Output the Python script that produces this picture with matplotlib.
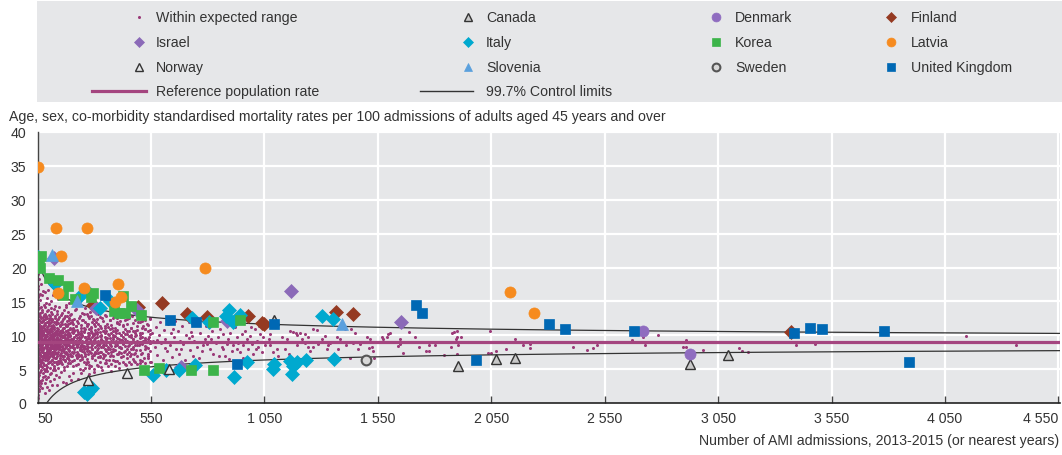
import numpy as np
import matplotlib
matplotlib.use("Agg")
import matplotlib.pyplot as plt
from matplotlib.lines import Line2D
from matplotlib.patches import Rectangle
from matplotlib import font_manager as fm

_names = {f.name for f in fm.fontManager.ttflist}
if "Liberation Sans Narrow" in _names:
    plt.rcParams['font.family'] = ['Liberation Sans Narrow', 'DejaVu Sans']
    FS = 11.5
else:
    plt.rcParams['font.family'] = ['Liberation Sans', 'DejaVu Sans']
    FS = 10.2

# ---------------- data ----------------
reference_rate = 9.0          # per 100 admissions
control_z = 3.0               # 99.7% limits
x_ticks = [50, 550, 1050, 1550, 2050, 2550, 3050, 3550, 4050, 4550]
x_tick_labels = ["50", "550", "1 050", "1 550", "2 050", "2 550", "3 050", "3 550", "4 050", "4 550"]
y_ticks = [0, 5, 10, 15, 20, 25, 30, 35, 40]

# hospitals within expected range (approximate reading)
dots_small = [
    (50,1.2),(50,4.5),(50,7.8),(50,10.3),(50,13.9),(50,17.2),(51,2.8),(51,9.1),(51,12.4),(51,15.6),
    (52,6.2),(52,8.4),(52,11.7),(52,19.0),(53,0.8),(53,5.1),(53,10.9),(53,14.5),(54,3.6),(54,7.3),
    (54,9.6),(54,16.8),(55,2.0),(55,8.9),(55,12.9),(56,6.7),(56,10.1),(56,18.3),(57,4.2),(57,11.3),
    (57,14.0),(58,1.7),(58,7.9),(58,9.4),(59,5.8),(59,12.1),(59,16.1),(60,3.3),(60,8.1),(60,10.7),
    (61,6.5),(61,13.3),(62,2.5),(62,9.8),(62,15.2),(63,7.1),(63,11.0),(64,4.8),(64,8.6),(65,12.6),
    (65,17.6),(66,3.0),(66,9.2),(67,6.0),(67,10.5),(68,13.7),(69,5.3),(69,8.3),(70,11.9),(71,2.2),
    (71,7.5),(72,9.9),(72,15.9),(73,4.4),(74,6.9),(74,12.3),(75,10.2),(76,3.8),(76,8.0),(77,14.4),
    (78,5.6),(78,9.5),(79,11.5),(80,7.2),
    (81,1.5),(81,10.8),(82,6.3),(82,13.1),(83,8.8),(83,16.4),(84,4.0),(84,9.7),(85,11.8),(85,2.9),
    (86,7.4),(86,14.8),(87,5.0),(87,10.0),(88,8.2),(88,12.7),(89,3.5),(89,9.3),(90,6.6),(90,15.5),
    (91,11.2),(92,4.7),(92,8.5),(93,10.6),(93,13.6),(94,2.4),(94,7.0),(95,9.0),(96,12.0),(96,5.9),
    (97,16.7),(97,8.7),(98,3.9),(98,10.4),(99,6.8),(99,13.0),(100,9.6),(101,1.9),(101,11.6),(102,7.7),
    (102,14.6),(103,5.2),(104,9.1),(104,12.5),(105,3.2),(106,8.0),(106,10.9),(107,6.1),(108,15.0),(108,9.8),
    (109,4.5),(110,11.4),(110,7.3),(111,13.5),(112,8.9),(113,2.7),(113,10.2),(114,6.4),(115,12.2),(116,8.4),
    (117,4.9),(117,16.0),(118,9.4),(119,11.0),(120,7.0),(121,3.6),(121,13.9),(122,9.9),(123,5.5),(124,8.1),
    (125,12.8),(126,10.5),(127,6.7),(128,14.3),(129,8.6),(130,4.1),
    (131,9.2),(132,11.9),(133,6.0),(134,13.2),(135,8.3),(136,2.6),(137,10.7),(138,7.4),(139,15.3),(140,9.5),
    (141,5.1),(142,12.4),(143,8.0),(144,10.1),(145,3.8),(146,14.1),(147,7.1),(148,9.9),(149,11.5),(150,6.3),
    (151,8.7),(152,13.0),(153,4.6),(154,10.4),(155,7.8),(156,12.1),(157,9.0),(158,5.7),(159,15.6),(160,8.4),
    (161,11.1),(162,3.1),(163,9.7),(164,6.9),(165,13.8),(166,10.0),(167,7.6),(168,12.6),(169,4.9),(170,9.3),
    (171,11.7),(172,8.1),(173,6.4),(174,14.5),(175,10.6),(176,2.9),(177,8.8),(178,12.9),(179,7.3),(180,9.6),
    (181,5.4),(182,11.3),(183,13.5),(184,8.5),(185,6.6),(186,10.3),(187,4.0),(188,9.0),(189,12.3),(190,7.7),
    (191,14.8),(192,10.9),(193,5.9),(194,8.2),(195,11.8),(196,3.4),(197,9.4),(198,13.1),(199,7.0),(200,10.5),
]
dots_mid = [
    (202,6.2),(204,12.0),(206,8.9),(208,4.4),(210,10.8),(212,7.5),(214,13.7),(216,9.1),(218,5.6),(220,11.4),
    (222,8.3),(224,14.4),(226,6.8),(228,10.2),(230,3.6),(232,9.7),(234,12.6),(236,7.9),(238,5.0),(240,11.0),
    (242,8.6),(244,13.3),(246,6.5),(248,9.9),(250,4.8),(252,12.2),(254,8.0),(256,10.6),(258,7.2),(260,14.0),
    (262,9.3),(264,5.8),(266,11.6),(268,8.4),(270,6.1),(272,12.8),(274,9.6),(276,4.3),(278,10.9),(280,7.6),
    (282,13.5),(284,8.8),(286,5.4),(288,11.2),(290,9.0),(292,6.9),(294,12.4),(296,10.1),(298,7.3),(300,4.6),
    (203,9.5),(211,8.1),(219,10.0),(227,8.7),(235,9.2),(243,10.4),(251,8.2),(259,9.8),(267,7.7),(275,10.3),
    (283,9.4),(291,8.0),(299,11.7),(207,11.1),(231,7.0),(255,13.1),(279,5.2),
    (303,9.1),(306,12.0),(309,7.4),(312,10.5),(315,5.5),(318,13.2),(321,8.6),(324,11.3),(327,6.8),(330,9.9),
    (333,4.9),(336,12.6),(339,8.2),(342,10.7),(345,7.0),(348,13.0),(351,9.4),(354,5.9),(357,11.6),(360,8.0),
    (363,10.1),(366,6.4),(369,12.3),(372,9.0),(375,4.7),(378,11.0),(381,7.7),(384,9.7),(387,12.9),(390,8.4),
    (393,6.2),(396,10.4),(399,8.9),(402,11.8),(405,7.2),(408,9.5),(411,5.2),(414,12.1),(417,8.1),(420,10.0),
    (305,10.3),(316,8.8),(329,9.3),(341,8.5),(356,9.6),(368,8.7),(383,10.6),(397,9.2),(412,8.3),(325,7.6),
    (347,11.0),(373,7.1),(401,12.5),
    (424,9.3),(428,11.5),(432,7.5),(436,10.2),(440,5.6),(444,12.4),(448,8.4),(452,9.9),(456,6.9),(460,11.1),
    (464,8.0),(468,12.8),(472,9.5),(476,6.2),(480,10.7),(484,7.8),(488,9.0),(492,11.9),(496,8.6),(500,5.9),
    (504,10.4),(508,7.3),(512,12.1),(516,9.2),(520,6.6),(524,10.9),(528,8.2),(532,11.6),(536,7.0),(540,9.7),
    (544,12.5),(548,8.8),(552,6.0),(556,10.3),(560,9.1),(426,8.7),(446,10.6),(466,9.0),(486,10.0),(506,8.9),
    (526,9.6),(546,10.8),(434,12.9),(474,7.2),(514,11.3),
    (566,8.3),(572,11.2),(578,7.1),(584,10.0),(590,12.0),(596,8.9),(602,6.4),(608,10.8),(614,9.4),(620,7.7),
    (626,11.6),(632,8.5),(638,10.3),(644,6.8),(650,9.7),(656,12.1),(662,8.0),(668,10.6),(674,7.3),(680,9.2),
    (686,11.4),(692,8.7),(698,6.3),(704,10.1),(710,9.0),(716,11.9),(722,7.8),(728,10.5),(575,9.3),(611,8.1),
    (647,10.9),(683,7.9),(719,9.6),
]
# further hospitals in the dense part of the cloud: admissions -> rates
dots_dense = {
    52: [6.8, 9.3, 11.1, 8.0, 14.8, 3.9, 10.0], 55: [7.6, 9.0, 12.2, 5.4, 10.6, 16.0],
    58: [8.7, 6.2, 11.6, 9.9, 13.1, 2.9], 61: [7.2, 10.4, 8.5, 12.8, 4.6, 9.6],
    64: [9.1, 6.9, 11.3, 7.8, 14.2, 10.1], 67: [8.2, 12.0, 5.5, 9.7, 7.0, 11.0],
    70: [9.4, 6.4, 10.8, 8.6, 13.4, 3.4], 73: [7.9, 11.2, 9.0, 5.9, 10.3, 12.7],
    76: [8.9, 6.6, 12.1, 10.5, 7.6, 16.6], 79: [9.3, 5.0, 11.1, 8.1, 13.0, 6.9],
    82: [7.4, 10.0, 8.8, 12.4, 4.7, 9.8], 85: [9.6, 6.8, 11.5, 8.3, 10.8, 14.1],
    88: [7.1, 10.6, 9.2, 5.6, 12.9, 8.6], 91: [8.4, 11.9, 6.3, 9.9, 7.7, 10.2],
    94: [9.0, 12.6, 7.9, 10.9, 5.3, 8.3], 97: [10.3, 6.5, 9.5, 11.4, 7.2, 13.8],
    100: [8.0, 10.7, 6.0, 9.3, 12.3, 7.5], 103: [9.8, 11.8, 7.3, 8.7, 4.3, 10.5],
    106: [6.9, 9.4, 12.9, 8.2, 10.1, 7.8], 109: [10.8, 8.6, 6.2, 9.7, 11.9, 14.0],
    112: [7.6, 9.2, 11.0, 5.8, 8.1, 12.4], 115: [9.9, 7.1, 10.6, 8.5, 13.2, 6.4],
    118: [8.3, 11.5, 6.8, 9.6, 10.2, 7.4], 121: [10.9, 8.8, 5.2, 9.1, 12.0, 7.7],
    124: [7.2, 9.5, 11.2, 8.0, 6.1, 10.4], 127: [9.0, 12.5, 7.6, 10.0, 8.4, 4.8],
    130: [8.7, 10.7, 6.6, 9.4, 11.6, 7.9], 134: [10.2, 7.3, 9.1, 12.2, 8.5, 5.7],
    138: [8.1, 11.0, 6.9, 9.8, 10.4, 13.6], 142: [9.3, 7.5, 10.9, 8.6, 6.2, 11.8],
    146: [7.9, 10.3, 9.0, 12.7, 5.9, 8.4], 150: [10.6, 8.2, 6.7, 9.5, 11.3, 7.1],
    154: [8.9, 12.0, 7.4, 10.0, 9.3, 6.0], 158: [9.7, 7.0, 11.6, 8.3, 10.8, 13.3],
    162: [8.0, 10.5, 6.5, 9.2, 12.4, 7.7], 166: [11.1, 8.7, 9.9, 6.9, 7.9, 5.3],
    170: [7.4, 10.2, 8.5, 12.9, 9.6, 6.2], 175: [9.1, 11.4, 7.6, 10.7, 8.2, 14.2],
    180: [8.6, 6.6, 10.0, 9.4, 12.1, 7.3], 185: [10.8, 8.0, 9.7, 7.0, 11.7, 5.9],
    190: [7.8, 9.3, 12.6, 8.8, 6.4, 10.4], 195: [9.9, 7.2, 11.1, 8.4, 10.1, 13.0],
    200: [8.3, 10.9, 6.9, 9.0, 7.6, 12.2], 206: [10.3, 8.6, 7.4, 11.6, 9.5, 5.4],
    212: [7.9, 9.8, 12.4, 8.1, 6.3, 10.6], 218: [9.2, 11.3, 7.1, 10.0, 8.7, 13.9],
    224: [8.4, 6.7, 10.8, 9.6, 12.1, 7.6], 230: [10.5, 8.9, 7.3, 11.8, 9.1, 5.8],
    236: [7.8, 10.2, 9.4, 6.4, 12.9, 8.3], 242: [9.7, 11.5, 8.0, 7.1, 10.7, 4.5],
    248: [8.6, 10.0, 6.8, 12.3, 9.2, 7.7], 254: [11.0, 9.0, 7.5, 8.4, 10.5, 6.1],
    260: [8.1, 12.0, 9.8, 7.0, 10.9, 5.2], 266: [9.4, 7.9, 11.4, 8.7, 6.5, 13.1],
    272: [10.3, 8.3, 7.2, 9.9, 11.7, 6.0], 278: [7.7, 9.6, 12.6, 8.9, 10.1, 5.6],
    284: [9.1, 11.0, 7.4, 8.2, 10.6, 12.9], 290: [8.5, 10.4, 6.6, 9.8, 7.9, 11.9],
    297: [10.0, 7.1, 8.8, 12.2, 9.3, 5.0], 304: [8.3, 11.3, 9.6, 7.5, 10.8, 6.3],
    311: [9.7, 7.8, 12.4, 8.6, 10.2, 5.6], 318: [10.9, 8.1, 9.2, 6.8, 11.7, 7.4],
    325: [8.8, 10.5, 7.0, 9.9, 12.7, 6.1], 332: [9.4, 11.1, 8.3, 7.6, 10.0, 5.3],
    339: [10.6, 7.3, 9.1, 12.1, 8.5, 6.6], 346: [8.0, 9.8, 11.4, 7.1, 10.3, 5.9],
    353: [9.5, 8.6, 12.8, 10.7, 7.7, 6.4], 360: [11.2, 9.0, 7.4, 8.3, 10.2, 5.5],
    368: [8.7, 10.9, 6.9, 9.6, 12.2, 7.9], 376: [9.2, 7.5, 11.5, 8.4, 10.4, 5.8],
    384: [10.1, 8.0, 9.4, 12.6, 7.0, 6.4], 392: [8.9, 11.0, 7.8, 9.9, 10.6, 5.4],
    400: [9.6, 7.2, 12.0, 8.6, 10.8, 6.2], 409: [10.4, 8.3, 9.0, 11.7, 7.6, 5.9],
    418: [8.1, 10.0, 12.8, 9.3, 6.8, 7.4], 427: [9.8, 11.3, 7.0, 8.8, 10.5, 6.0],
    436: [8.4, 10.9, 9.5, 7.7, 12.2, 5.7], 445: [10.2, 8.0, 9.1, 11.6, 6.6, 7.3],
    454: [9.0, 10.6, 7.5, 8.5, 12.5, 6.1], 463: [11.0, 8.8, 9.7, 7.2, 10.1, 5.8],
    472: [8.2, 9.4, 11.8, 7.9, 10.7, 6.5], 481: [9.9, 8.6, 12.3, 7.4, 10.3, 6.0],
    490: [8.5, 10.8, 9.2, 7.0, 11.4, 5.7], 500: [10.0, 7.8, 8.9, 12.0, 9.6, 6.4],
    512: [8.7, 11.1, 7.4, 9.8, 10.4, 6.2], 524: [9.3, 7.9, 12.2, 8.4, 10.9, 5.9],
    536: [10.6, 8.1, 9.5, 7.2, 11.5, 6.7], 548: [8.9, 10.2, 7.7, 9.1, 12.4, 6.0],
}
dots_large = [
    (729,9.9),(740,9.2),(751,8.2),(766,10.4),(773,7.7),(788,9.4),(795,8.7),(803,9.9),(810,8.0),(817,10.7),
    (825,7.2),(837,8.9),(847,9.7),(854,10.9),(862,8.2),(869,10.2),(876,7.0),(884,8.7),(891,9.4),(898,10.4),
    (906,7.7),(913,8.5),(920,11.2),(928,9.7),(935,8.9),(942,7.5),(950,10.2),(957,8.5),(964,10.7),(972,9.4),
    (979,8.0),(986,9.9),(994,8.7),(1001,7.2),(1008,10.9),(1016,9.2),(1023,8.2),(1030,10.2),(1038,7.5),(1045,9.7),
    (1053,8.5),(734,7.0),(763,6.7),(793,11.4),(851,6.9),(895,6.5),(954,6.7),(989,11.2),(1028,11.3),(781,8.5),
    (813,9.4),(869,8.0),(928,8.0),(972,6.7),(1013,8.0),
    (1070,9.4),(1075,10.2),(1075,8.5),(1107,8.0),(1126,9.7),(1148,9.4),(1163,10.7),(1177,10.5),(1189,10.4),(1192,10.0),
    (1207,10.4),(1214,9.5),(1229,8.9),(1243,8.2),(1251,7.7),(1265,10.9),(1280,10.8),(1288,8.7),(1302,9.4),(1317,9.9),
    (1324,8.0),(1332,8.5),(1339,8.9),(1368,9.8),(1376,8.0),(1383,9.4),(1405,10.9),(1434,10.9),(1442,8.9),(1449,10.4),
    (1464,8.0),(1471,8.7),(1486,6.7),(1427,6.7),(1412,8.5),(1160,7.2),(1141,8.0),(1111,7.0),(1089,7.5),(1195,8.5),
    (1229,10.2),(1243,9.8),(1263,8.2),
    (1501,9.8),(1515,9.5),(1512,8.1),(1523,8.3),(1527,7.7),(1533,6.7),(1567,9.7),(1574,9.4),(1589,9.8),(1596,10.2),
    (1604,10.3),(1640,8.4),(1648,8.7),(1648,9.4),(1662,7.4),(1687,10.5),(1714,9.8),(1733,8.2),(1762,7.7),(1777,7.7),
    (1777,8.5),(1802,8.5),(1843,7.1),(1871,8.2),(1875,10.4),(1887,10.5),(1897,10.7),(1897,9.8),(1894,9.5),(1904,8.5),
    (1900,7.2),(1916,9.8),(1948,9.0),(2037,7.4),(2047,7.4),(2044,10.7),(2071,7.7),(2113,7.9),(2154,9.5),(2173,9.0),
    (2191,8.5),(2220,8.7),(2220,8.1),
    (2411,9.0),(2411,8.3),(2470,7.8),(2497,8.1),(2514,8.5),(2669,9.3),(2717,9.7),(2727,8.6),(2783,10.1),(2852,9.0),
    (2908,9.3),(2896,8.3),(2907,8.2),(2984,7.8),(3143,8.1),(3156,7.7),(3180,7.5),(3393,8.6),(3477,8.7),(3905,9.0),
    (4142,9.9),(4362,8.6),
]

canada_x = [1093, 1905, 2069, 2154, 2926, 3095]
canada_y = [12.3, 5.4, 6.5, 6.7, 5.7, 7.1]
denmark_x = [2720, 2926]
denmark_y = [10.7, 7.2]
finland_x = [296, 494, 599, 708, 796, 976, 1038, 1050, 1366, 1439, 3370]
finland_y = [14.4, 14.2, 14.7, 13.2, 12.7, 12.8, 11.8, 11.6, 13.5, 13.1, 10.5]
israel_x = [124, 306, 487, 682, 884, 1167, 1651]
israel_y = [21.4, 14.0, 13.7, 5.3, 12.1, 16.5, 11.9]
italy_x = [50, 127, 233, 278, 326, 370, 255, 268, 280, 290, 560, 615, 673, 745, 730, 806,
           881, 895, 913, 942, 914, 972, 1087, 1092, 1170, 1163, 1177, 1192, 1232, 1302, 1352, 1356]
italy_y = [21.5, 17.5, 15.6, 16.2, 14.0, 15.1, 1.6, 1.4, 1.9, 2.2, 4.1, 4.9, 4.8, 5.6, 12.6, 12.0,
           12.9, 13.8, 12.0, 13.0, 3.8, 6.1, 5.0, 5.8, 4.3, 6.2, 5.5, 6.0, 6.3, 12.9, 12.4, 6.5]
korea_x = [64, 58, 60, 99, 142, 183, 164, 214, 295, 284, 427, 388, 411, 437, 461, 506, 518, 584, 726, 822, 825, 943]
korea_y = [21.7, 20.9, 20.0, 18.4, 18.2, 17.2, 16.0, 15.3, 16.2, 15.6, 15.8, 13.6, 13.3, 13.3, 14.3, 13.0, 4.8, 5.2, 4.8, 12.0, 4.8, 12.3]
latvia_x = [50, 131, 269, 155, 256, 139, 405, 393, 418, 787, 2132, 2237]
latvia_y = [34.8, 25.8, 25.9, 21.7, 17.0, 16.2, 17.6, 14.9, 15.7, 20.0, 16.4, 13.3]
norway_x = [274, 446, 630]
norway_y = [3.4, 4.5, 5.0]
slovenia_x = [115, 223, 1391]
slovenia_y = [21.8, 15.1, 11.6]
sweden_x = [1498]
sweden_y = [6.3]
uk_x = [348, 634, 748, 931, 1093, 1718, 1743, 1983, 2306, 2375, 2681, 3384, 3455, 3506, 3781, 3892]
uk_y = [16.0, 12.3, 12.0, 5.8, 11.7, 14.4, 13.3, 6.3, 11.7, 10.9, 10.7, 10.4, 11.0, 10.9, 10.6, 6.1]

# ---------------- styles ----------------
BG = "#e6e7e9"
DOT_C = "#9b3a78"
REF_C = "#a4457f"
LIM_C = "#333333"
TXT = "#333333"

styles = {
    "Canada":   dict(marker="^", ms=6.5, mfc="#c9c9c9", mec="#333333", mew=1.0),
    "Denmark":  dict(marker="o", ms=8, mfc="#8f6cc0", mec="#8f6cc0", mew=0.5),
    "Finland":  dict(marker="D", ms=7, mfc="#953a22", mec="#953a22", mew=0.5),
    "Israel":   dict(marker="D", ms=7, mfc="#8b6ab8", mec="#8b6ab8", mew=0.5),
    "Italy":    dict(marker="D", ms=7, mfc="#00a9cf", mec="#00a9cf", mew=0.5),
    "Korea":    dict(marker="s", ms=7, mfc="#3cb44a", mec="#3cb44a", mew=0.5),
    "Latvia":   dict(marker="o", ms=8, mfc="#f68b1f", mec="#f68b1f", mew=0.5),
    "Norway":   dict(marker="^", ms=6.5, mfc="#e6e7e9", mec="#333333", mew=1.0),
    "Slovenia": dict(marker="^", ms=8, mfc="#5aa0dd", mec="#5aa0dd", mew=0.5),
    "Sweden":   dict(marker="o", ms=7, mfc="#d8d8d8", mec="#555555", mew=1.5),
    "United Kingdom": dict(marker="s", ms=7, mfc="#0068b4", mec="#0068b4", mew=0.5),
}
countries = [
    ("Canada", canada_x, canada_y), ("Denmark", denmark_x, denmark_y),
    ("Finland", finland_x, finland_y), ("Israel", israel_x, israel_y),
    ("Italy", italy_x, italy_y), ("Korea", korea_x, korea_y),
    ("Latvia", latvia_x, latvia_y), ("Norway", norway_x, norway_y),
    ("Slovenia", slovenia_x, slovenia_y), ("Sweden", sweden_x, sweden_y),
    ("United Kingdom", uk_x, uk_y),
]

# ---------------- figure ----------------
W, H = 1062, 456
fig = plt.figure(figsize=(W / 100, H / 100), dpi=100)
fig.patch.set_facecolor("white")

def fx(px):
    return px / W

def fy(py):
    return 1 - py / H

ax = fig.add_axes([fx(37.5), fy(404), fx(1060) - fx(37.5), fy(133) - fy(404)])
ax.set_facecolor(BG)
ax.set_xlim(50, 4557)
ax.set_ylim(0, 40)

for t in x_ticks[1:]:
    ax.axvline(t, color="white", lw=1.6, zorder=0.5)
for t in y_ticks[1:]:
    ax.axhline(t, color="white", lw=1.6, zorder=0.5)

dots = dots_small + dots_mid + [(k, v) for k, vals in dots_dense.items() for v in vals] + dots_large
dx = [d[0] for d in dots]
dy = [d[1] for d in dots]
ax.plot(dx, dy, ls="none", marker="o", ms=2.2, mfc=DOT_C, mec="none", zorder=2)

# reference rate and 99.7% control limits
n = np.linspace(50, 4557, 600)
p = reference_rate / 100.0
half = control_z * np.sqrt(p * (1 - p) / n) * 100
ax.plot(n, np.full_like(n, reference_rate), color=REF_C, lw=2.3, zorder=3)
ax.plot(n, reference_rate + half, color=LIM_C, lw=0.9, zorder=3)
ax.plot(n, reference_rate - half, color=LIM_C, lw=0.9, zorder=3)

for name, xs, ys in countries:
    st = styles[name]
    ax.plot(xs, ys, ls="none", zorder=4, **st)

for s in ["top", "right"]:
    ax.spines[s].set_visible(False)
ax.spines["left"].set_color("#444444")
ax.spines["bottom"].set_color("#222222")
ax.spines["left"].set_linewidth(1.0)
ax.spines["bottom"].set_linewidth(1.2)

ax.set_xticks(x_ticks)
ax.set_xticklabels(x_tick_labels)
ax.set_yticks(y_ticks)
ax.set_yticklabels([str(v) for v in y_ticks])
ax.tick_params(axis="x", direction="in", length=5, width=1, color="#444444",
               labelsize=FS, labelcolor=TXT, pad=6)
ax.tick_params(axis="y", length=0, labelsize=FS, labelcolor=TXT, pad=8)
xl = ax.get_xticklabels()
xl[0].set_horizontalalignment("left")
xl[-1].set_horizontalalignment("right")

fig.text(fx(9), fy(117), "Age, sex, co-morbidity standardised mortality rates per 100 admissions of adults aged 45 years and over",
         fontsize=FS, color=TXT, va="center", ha="left")
fig.text(fx(1059), fy(441), "Number of AMI admissions, 2013-2015 (or nearest years)",
         fontsize=FS, color=TXT, va="center", ha="right")

# ---------------- legend ----------------
fig.add_artist(Rectangle((fx(37), fy(103)), fx(1062) - fx(37), fy(2) - fy(103),
                         transform=fig.transFigure, facecolor=BG, edgecolor="none", zorder=0))
col_mk = [139, 468, 716, 891]
col_tx = [156, 486, 735, 911]
rows = [18, 43, 68, 92]
legend_grid = [
    ["Within expected range", "Canada", "Denmark", "Finland"],
    ["Israel", "Italy", "Korea", "Latvia"],
    ["Norway", "Slovenia", "Sweden", "United Kingdom"],
]
for r, row in enumerate(legend_grid):
    for c, name in enumerate(row):
        if name == "Within expected range":
            st = dict(marker="o", ms=2.2, mfc=DOT_C, mec="none")
        else:
            st = dict(styles[name])
            st["ms"] = st["ms"] * 0.8
        fig.add_artist(Line2D([fx(col_mk[c])], [fy(rows[r])], transform=fig.transFigure, ls="none", **st))
        fig.text(fx(col_tx[c]), fy(rows[r]), name, fontsize=FS, color=TXT, va="center", ha="left")

fig.add_artist(Line2D([fx(92), fx(146)], [fy(92), fy(92)], transform=fig.transFigure, color=REF_C, lw=2.3))
fig.text(fx(col_tx[0]), fy(92), "Reference population rate", fontsize=FS, color=TXT, va="center", ha="left")
fig.add_artist(Line2D([fx(420), fx(473)], [fy(92), fy(92)], transform=fig.transFigure, color=LIM_C, lw=1.0))
fig.text(fx(col_tx[1]), fy(92), "99.7% Control limits", fontsize=FS, color=TXT, va="center", ha="left")

fig.savefig("out.png", dpi=100, facecolor="white")
